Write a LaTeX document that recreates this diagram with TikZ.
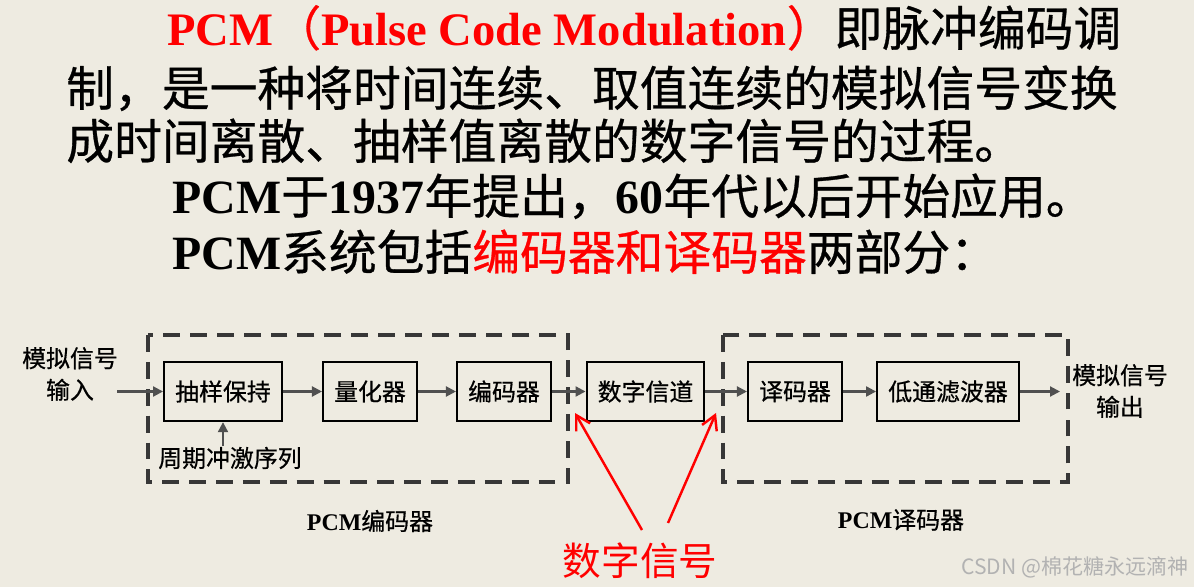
\documentclass[tikz,border=0pt]{standalone}
\usepackage{fontspec}
\setmainfont{Noto Sans CJK SC}[FakeBold=0.6]
\newfontfamily\thinfont{Noto Sans CJK SC}
\newfontfamily\tmsfont{Liberation Serif}
\usetikzlibrary{arrows.meta,positioning}
\definecolor{bgbeige}{RGB}{238,235,225}
\definecolor{dashgray}{RGB}{55,55,55}
\definecolor{arrgray}{RGB}{80,80,80}
\newcommand{\tnr}[1]{{\tmsfont\bfseries #1}}

\begin{document}
\begin{tikzpicture}[x=0.02cm,y=-0.02cm]
  \tikzstyle{blk} = [draw, line width=1.35pt, minimum height=1.18cm, inner xsep=0.22cm, font=\fontsize{13.6}{16}\selectfont]
  \tikzstyle{arr} = [draw=arrgray, line width=1.2pt, -{Triangle[length=0.2cm,width=0.2cm]}]
  \tikzstyle{dashbox} = [draw=dashgray, line width=2pt, dash pattern=on 9.6pt off 5.7pt]
  \tikzstyle{redarr} = [draw=red, line width=1.4pt, -{Straight Barb[length=0.28cm,width=0.32cm]}]
  \tikzstyle{big} = [anchor=base west, inner sep=0, font=\fontsize{27.2}{30}\selectfont]
  \tikzstyle{lbl} = [inner sep=0, align=center, font=\fontsize{13.6}{18}\selectfont]

  \fill[bgbeige] (0,0) rectangle (1194,587);
  \useasboundingbox (0,0) rectangle (1194,587);

  % Text oben
  \node[big] (l1) at (167,46) {\textcolor{red}{\tnr{\fontsize{26.5}{30}\selectfont PCM}（\tnr{\fontsize{26.5}{30}\selectfont Pulse Code Modulation}）}即脉冲编码调};
  \node[big] (l2) at (66,106) {制，是一种将时间连续、取值连续的模拟信号变换};
  \node[big] (l3) at (66,159) {成时间离散、抽样值离散的数字信号的过程。};
  \node[big] (l4) at (172,214) {\tnr{PCM}于\tnr{1937}年提出，\tnr{60}年代以后开始应用。};
  \node[big] (l5) at (172,270) {\tnr{PCM}系统包括\textcolor{red}{编码器和译码器}两部分：};

  % Rahmen
  \draw[dashbox] (148,335) rectangle (568,482);
  \draw[dashbox] (723,335) rectangle (1068,482);

  % Bloecke
  \node[blk] (sh) at (223,391.5) {抽样保持};
  \node[blk] (lh) at (370,391.5) {量化器};
  \node[blk] (bm) at (504,391.5) {编码器};
  \node[blk] (xd) at (645.5,391.5) {数字信道};
  \node[blk] (ym) at (795,391.5) {译码器};
  \node[blk] (lb) at (948,391.5) {低通滤波器};

  % Beschriftungen
  \node[lbl] (in) at (70,374) {模拟信号\\输入};
  \node[lbl] (out) at (1120,391) {模拟信号\\输出};
  \node[lbl] (pulse) at (230,458) {周期冲激序列};
  \node[lbl] (pcmenc) at (370,521) {\tnr{PCM}编码器};
  \node[lbl] (pcmdec) at (901,520) {\tnr{PCM}译码器};
  \node[inner sep=0, text=red, font=\fontsize{22}{24}\thinfont] (sig) at (640,561) {数字信号};
  \node[inner sep=0, text=gray!60, font=\fontsize{12}{14}\thinfont] (csdn) at (1075,567) {CSDN @棉花糖永远滴神};

  \coordinate (inpt) at (117,391.5);
  \coordinate (outpt) at (1060,391.5);
  \coordinate (imp) at (223,446);
  \coordinate (tip1) at (575,413);
  \coordinate (tip2) at (716,413);
  \coordinate (tail1) at (642,530);
  \coordinate (tail2) at (668,523);

  % Verbindungen
  \draw[arr] (inpt) -- (sh);
  \draw[arr] (sh) -- (lh);
  \draw[arr] (lh) -- (bm);
  \draw[arr] (bm) -- (xd);
  \draw[arr] (xd) -- (ym);
  \draw[arr] (ym) -- (lb);
  \draw[arr] (lb) -- (outpt);
  \draw[arr] (imp) -- (sh.south);
  \draw[redarr] (tail1) -- (tip1);
  \draw[redarr] (tail2) -- (tip2);
\end{tikzpicture}
\end{document}
